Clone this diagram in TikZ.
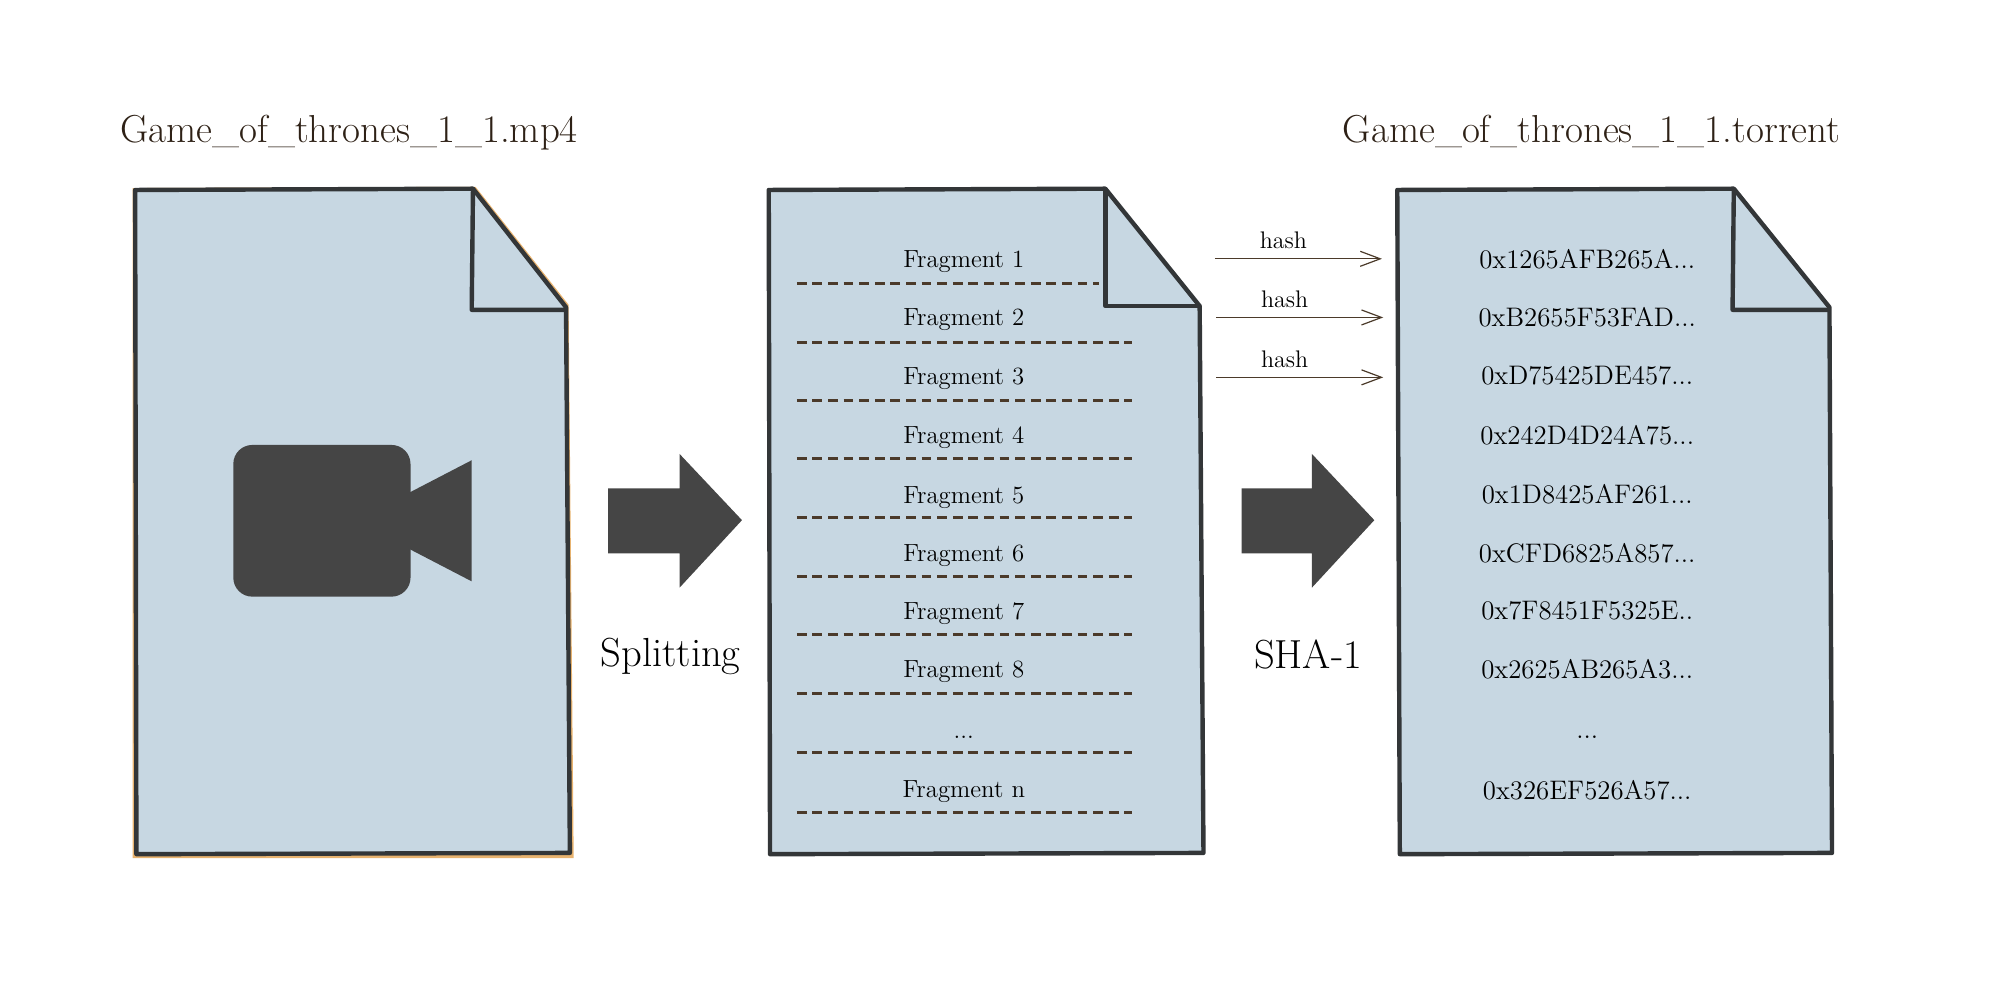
\documentclass[tikz,border=0pt]{standalone}
\usetikzlibrary{arrows.meta}
\definecolor{paper}{HTML}{C7D7E2}
\definecolor{edgeline}{HTML}{333638}
\definecolor{iconfill}{HTML}{454545}
\definecolor{inkbrown}{HTML}{2E2116}
\definecolor{cutbrown}{HTML}{4B3A2A}
\definecolor{peach}{HTML}{E8B36F}
\tikzset{
doc/.style={fill=paper, draw=edgeline, line width=2.2pt, line join=round},
title/.style={text=inkbrown, font=\fontsize{19.5}{22}\selectfont, inner sep=0pt},
frag/.style={text=black, font=\fontsize{12.4}{14}\selectfont, inner sep=0pt},
hashval/.style={text=black, font=\fontsize{13.4}{15}\selectfont, inner sep=0pt},
cut/.style={draw=cutbrown, line width=1.5pt, dash pattern=on 4.9pt off 2.9pt},
hasharrow/.style={draw=cutbrown, line width=.6pt, -{Straight Barb[length=10pt,width=7.5pt]}},
hashlabel/.style={font=\fontsize{12}{14}\selectfont, inner sep=0pt},
steplabel/.style={font=\fontsize{20.3}{24}\selectfont, inner sep=0pt},
icon/.style={fill=iconfill, draw=none}
}
\begin{document}
\begin{tikzpicture}[x=.6374pt, y=-.6374pt]
\useasboundingbox (0,0) rectangle (1568,774.2);
% first file
\fill[peach] (104,147.5) -- (373,146.5) -- (446,239) -- (450,673) -- (104,673) -- cycle;
\path[doc] (106,149) -- (371,148) -- (444,241) -- (447,669) -- (107,670) -- cycle;
\draw[doc, fill=none] (371,148) -- (370,243) -- (444,243);
\path[icon, rounded corners=9.5pt] (183,349) rectangle (322,468);
\path[icon] (318,388) -- (370,361) -- (370,456) -- (318,429) -- cycle;
\node[title, anchor=base west] (N1) at (94,111.5) {Game\_of\_thrones\_1\_1.mp4};
% second file
\path[doc] (603,149) -- (867,148) -- (941,240) -- (944,669) -- (604,670) -- cycle;
\draw[doc, fill=none] (867,148) -- (867,240) -- (941,240);
\path[icon] (477,383) -- (533,383) -- (533,356) -- (582,408) -- (533,461) -- (533,434) -- (477,434) -- cycle;
\node[steplabel] (S) at (526,515) {Splitting};
\node[frag] (F1) at (756,205) {Fragment 1};
\node[frag] (F2) at (756,251) {Fragment 2};
\node[frag] (F3) at (756,297) {Fragment 3};
\node[frag] (F4) at (756,343) {Fragment 4};
\node[frag] (F5) at (756,390) {Fragment 5};
\node[frag] (F6) at (756,436) {Fragment 6};
\node[frag] (F7) at (756,481) {Fragment 7};
\node[frag] (F8) at (756,527) {Fragment 8};
\node[frag] (F9) at (756,578) {...};
\node[frag] (Fn) at (756,621) {Fragment n};
\draw[cut] (625,222) -- (862,222);
\draw[cut] (625,269) -- (888,269);
\draw[cut] (625,314) -- (888,314);
\draw[cut] (625,360) -- (888,360);
\draw[cut] (625,406) -- (888,406);
\draw[cut] (625,452) -- (888,452);
\draw[cut] (625,498) -- (888,498);
\draw[cut] (625,544) -- (888,544);
\draw[cut] (625,590) -- (888,590);
\draw[cut] (625,637) -- (888,637);
% third file
\path[doc] (1096,149) -- (1360,148) -- (1435,241) -- (1437,669) -- (1098,670) -- cycle;
\draw[doc, fill=none] (1360,148) -- (1359,243) -- (1435,243);
\path[icon] (974,383) -- (1029,383) -- (1029,356) -- (1078,408) -- (1029,461) -- (1029,434) -- (974,434) -- cycle;
\node[steplabel] (H) at (1026,513) {SHA-1};
\node[title, anchor=base west] (N2) at (1053,111.5) {Game\_of\_thrones\_1\_1.torrent};
\node[hashval] (H1) at (1245,203) {0x1265AFB265A...};
\node[hashval] (H2) at (1245,249) {0xB2655F53FAD...};
\node[hashval] (H3) at (1245,295) {0xD75425DE457...};
\node[hashval] (H4) at (1245,341) {0x242D4D24A75...};
\node[hashval] (H5) at (1245,388) {0x1D8425AF261...};
\node[hashval] (H6) at (1245,434) {0xCFD6825A857...};
\node[hashval] (H7) at (1245,479) {0x7F8451F5325E..};
\node[hashval] (H8) at (1245,525) {0x2625AB265A3...};
\node[hashval] (H9) at (1245,578) {...};
\node[hashval] (Hn) at (1245,620) {0x326EF526A57...};
% hash arrows
\coordinate (A1) at (953,203);
\coordinate (B1) at (1084,203);
\coordinate (A2) at (954,249);
\coordinate (B2) at (1085,249);
\coordinate (A3) at (954,296);
\coordinate (B3) at (1085,296);
\path
(A1) edge[hasharrow] node[hashlabel, pos=.41, above=4.5pt](L1){hash} (B1)
(A2) edge[hasharrow] node[hashlabel, pos=.41, above=4.5pt](L2){hash} (B2)
(A3) edge[hasharrow] node[hashlabel, pos=.41, above=4.5pt](L3){hash} (B3);
\end{tikzpicture}
\end{document}
